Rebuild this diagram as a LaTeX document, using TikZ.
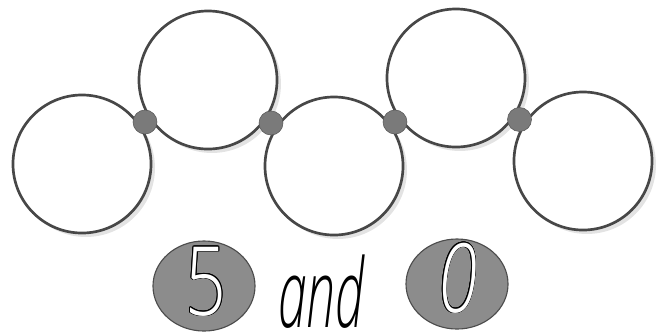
\documentclass[tikz,border=0pt]{standalone}
\usepackage{fontspec}
\setsansfont{Open Sans}
\newfontfamily\thinsans{Open Sans Light}[ItalicFont={Open Sans Light Italic}]
\usepackage{contour}
\contourlength{0.6pt}
\usetikzlibrary{calc,shadows,shapes.geometric}
\tikzset{
  ring/.style={
    circle,
    draw=black!72,
    line width=1.9pt,
    fill=white,
    minimum size=3.45cm,
    inner sep=0pt,
    drop shadow={shadow xshift=2.8pt, shadow yshift=-2.8pt, fill=black!22}
  },
  joint/.style={
    circle,
    draw=black!65,
    fill=black!52,
    minimum size=0.6cm,
    inner sep=0pt
  },
  numdisc/.style={
    ellipse,
    draw=black!70,
    line width=0.8pt,
    fill=black!45,
    minimum width=2.55cm,
    minimum height=2.25cm,
    inner sep=0pt
  },
  digit/.style={anchor=base, text=white, inner sep=0pt,
    font=\thinsans\fontsize{68}{68}\selectfont},
  word/.style={anchor=base, inner sep=0pt,
    font=\thinsans\itshape\fontsize{68}{68}\selectfont}
}

\begin{document}
\begin{tikzpicture}[x=0.025cm, y=-0.025cm]
\useasboundingbox (0,0) rectangle (662,332);

% ring of five
\node[ring] (c1) at (82,164) {};
\node[ring] (c2) at (208,80) {};
\node[ring] (c3) at (334,166) {};
\node[ring] (c4) at (456,78) {};
\node[ring] (c5) at (583,161) {};

% joints between neighbours
\foreach \a/\b [count=\i] in {c1/c2, c2/c3, c3/c4, c4/c5}
  \node[joint] (j\i) at ($(\a)!0.5!(\b)$) {};

% the pair
\node[numdisc] (d5) at (204,286) {};
\node[digit] (n5) at (206,315) {\scalebox{0.75}[1]{\contour{black}{5}}};
\node[word] (and) at (321,327) {\scalebox{0.54}[1]{and}};
\node[numdisc] (d0) at (457,284) {};
\node[digit] (n0) at (458,312) {\scalebox{0.75}[1]{\itshape\contour{black}{0}}};
\end{tikzpicture}
\end{document}
